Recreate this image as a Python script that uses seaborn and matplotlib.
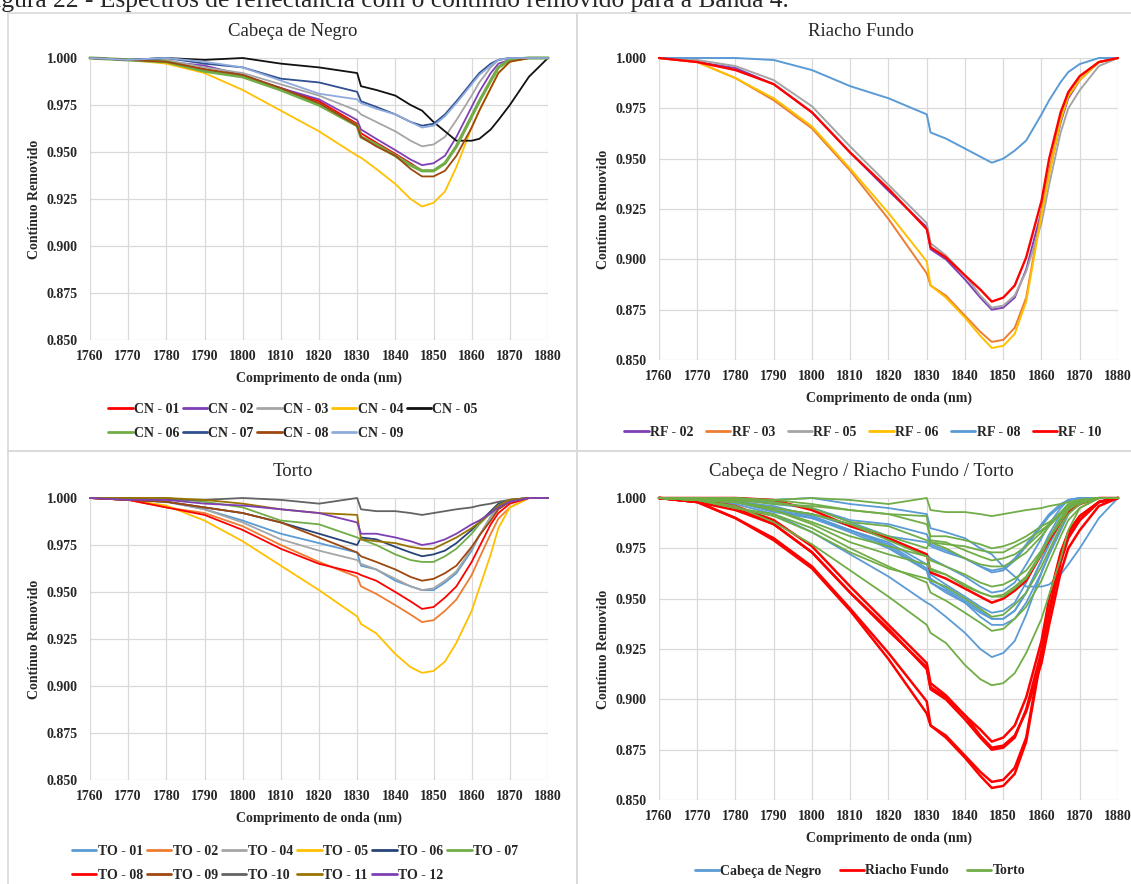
import numpy as np
import pandas as pd
import seaborn as sns
import matplotlib.pyplot as plt
from matplotlib.lines import Line2D
from matplotlib.patches import Rectangle

# wavelengths (nm) at which the curves were read
wl = [1760, 1770, 1780, 1790, 1800, 1810, 1820, 1830, 1831, 1835, 1840, 1844,
      1847, 1850, 1853, 1856, 1860, 1862, 1865, 1867, 1870, 1875, 1880]

# Cabeca de Negro
cn01 = [1.000, 0.999, 0.998, 0.994, 0.990, 0.984, 0.977, 0.965, 0.960, 0.955, 0.949, 0.944, 0.940, 0.940, 0.944, 0.953, 0.969, 0.977, 0.988, 0.995, 0.999, 1.000, 1.000]
cn02 = [1.000, 0.999, 0.998, 0.996, 0.991, 0.984, 0.978, 0.967, 0.962, 0.957, 0.951, 0.946, 0.943, 0.944, 0.948, 0.958, 0.974, 0.982, 0.992, 0.997, 0.999, 1.000, 1.000]
cn03 = [1.000, 0.999, 0.999, 0.995, 0.992, 0.986, 0.980, 0.972, 0.970, 0.966, 0.961, 0.956, 0.953, 0.954, 0.958, 0.967, 0.980, 0.987, 0.995, 0.999, 1.000, 1.000, 1.000]
cn04 = [1.000, 0.999, 0.997, 0.992, 0.983, 0.972, 0.961, 0.948, 0.947, 0.941, 0.933, 0.925, 0.921, 0.923, 0.929, 0.942, 0.963, 0.972, 0.984, 0.992, 0.998, 1.000, 1.000]
cn05 = [1.000, 0.999, 1.000, 0.999, 1.000, 0.997, 0.995, 0.992, 0.985, 0.983, 0.980, 0.975, 0.972, 0.966, 0.961, 0.956, 0.956, 0.957, 0.962, 0.967, 0.975, 0.990, 1.000]
cn06 = [1.000, 0.999, 0.998, 0.993, 0.990, 0.983, 0.975, 0.964, 0.958, 0.954, 0.948, 0.943, 0.940, 0.940, 0.944, 0.953, 0.969, 0.977, 0.988, 0.995, 0.999, 1.000, 1.000]
cn07 = [1.000, 0.999, 1.000, 0.997, 0.995, 0.989, 0.987, 0.982, 0.977, 0.974, 0.970, 0.966, 0.964, 0.965, 0.970, 0.977, 0.987, 0.992, 0.997, 0.999, 1.000, 1.000, 1.000]
cn08 = [1.000, 0.999, 0.998, 0.994, 0.991, 0.984, 0.976, 0.964, 0.958, 0.953, 0.948, 0.941, 0.937, 0.937, 0.940, 0.948, 0.963, 0.972, 0.984, 0.992, 0.998, 1.000, 1.000]
cn09 = [1.000, 0.999, 1.000, 0.998, 0.995, 0.988, 0.981, 0.978, 0.976, 0.973, 0.970, 0.966, 0.963, 0.964, 0.969, 0.976, 0.986, 0.991, 0.996, 0.999, 1.000, 1.000, 1.000]

# Riacho Fundo
rf02 = [1.000, 0.998, 0.995, 0.987, 0.973, 0.953, 0.934, 0.916, 0.905, 0.900, 0.890, 0.881, 0.875, 0.876, 0.881, 0.895, 0.924, 0.943, 0.968, 0.980, 0.989, 0.998, 1.000]
rf03 = [1.000, 0.998, 0.990, 0.979, 0.965, 0.944, 0.920, 0.893, 0.887, 0.882, 0.872, 0.864, 0.859, 0.860, 0.866, 0.881, 0.924, 0.944, 0.971, 0.983, 0.991, 0.998, 1.000]
rf05 = [1.000, 0.999, 0.996, 0.989, 0.976, 0.956, 0.937, 0.918, 0.908, 0.902, 0.892, 0.882, 0.876, 0.877, 0.882, 0.894, 0.918, 0.937, 0.963, 0.975, 0.984, 0.996, 1.000]
rf06 = [1.000, 0.998, 0.990, 0.980, 0.966, 0.945, 0.923, 0.899, 0.887, 0.881, 0.871, 0.862, 0.856, 0.857, 0.863, 0.879, 0.922, 0.942, 0.969, 0.981, 0.989, 0.998, 1.000]
rf08 = [1.000, 1.000, 1.000, 0.999, 0.994, 0.986, 0.980, 0.972, 0.963, 0.960, 0.955, 0.951, 0.948, 0.950, 0.954, 0.959, 0.972, 0.979, 0.988, 0.993, 0.997, 1.000, 1.000]
rf10 = [1.000, 0.998, 0.994, 0.987, 0.973, 0.953, 0.935, 0.915, 0.906, 0.901, 0.892, 0.885, 0.879, 0.881, 0.887, 0.901, 0.929, 0.950, 0.973, 0.983, 0.991, 0.998, 1.000]

# Torto
to01 = [1.000, 0.999, 0.998, 0.994, 0.988, 0.981, 0.976, 0.971, 0.964, 0.962, 0.956, 0.953, 0.951, 0.951, 0.955, 0.960, 0.972, 0.980, 0.990, 0.995, 0.999, 1.000, 1.000]
to02 = [1.000, 0.999, 0.995, 0.992, 0.985, 0.975, 0.966, 0.958, 0.953, 0.949, 0.943, 0.938, 0.934, 0.935, 0.940, 0.946, 0.959, 0.968, 0.981, 0.989, 0.995, 1.000, 1.000]
to04 = [1.000, 0.999, 0.998, 0.994, 0.987, 0.978, 0.972, 0.967, 0.965, 0.962, 0.957, 0.953, 0.951, 0.952, 0.956, 0.961, 0.973, 0.980, 0.990, 0.995, 0.999, 1.000, 1.000]
to05 = [1.000, 0.999, 0.996, 0.988, 0.977, 0.964, 0.951, 0.937, 0.933, 0.928, 0.917, 0.910, 0.907, 0.908, 0.913, 0.923, 0.940, 0.952, 0.970, 0.984, 0.995, 1.000, 1.000]
to06 = [1.000, 0.999, 0.998, 0.995, 0.992, 0.987, 0.981, 0.975, 0.979, 0.978, 0.974, 0.971, 0.969, 0.970, 0.972, 0.976, 0.983, 0.987, 0.993, 0.997, 0.999, 1.000, 1.000]
to07 = [1.000, 1.000, 1.000, 0.998, 0.995, 0.988, 0.986, 0.979, 0.978, 0.975, 0.970, 0.967, 0.966, 0.966, 0.969, 0.973, 0.981, 0.986, 0.992, 0.996, 0.999, 1.000, 1.000]
to08 = [1.000, 0.999, 0.995, 0.991, 0.983, 0.973, 0.965, 0.960, 0.959, 0.956, 0.950, 0.945, 0.941, 0.942, 0.947, 0.953, 0.966, 0.974, 0.986, 0.992, 0.997, 1.000, 1.000]
to09 = [1.000, 0.999, 0.998, 0.995, 0.992, 0.987, 0.979, 0.971, 0.969, 0.966, 0.962, 0.958, 0.956, 0.957, 0.960, 0.964, 0.974, 0.980, 0.988, 0.994, 0.998, 1.000, 1.000]
to10 = [1.000, 1.000, 0.999, 0.999, 1.000, 0.999, 0.997, 1.000, 0.994, 0.993, 0.993, 0.992, 0.991, 0.992, 0.993, 0.994, 0.995, 0.996, 0.997, 0.998, 0.999, 1.000, 1.000]
to11 = [1.000, 1.000, 1.000, 0.999, 0.997, 0.994, 0.992, 0.991, 0.978, 0.977, 0.976, 0.974, 0.973, 0.973, 0.976, 0.979, 0.984, 0.987, 0.992, 0.996, 0.999, 1.000, 1.000]
to12 = [1.000, 0.999, 0.999, 0.997, 0.996, 0.994, 0.992, 0.987, 0.981, 0.981, 0.979, 0.977, 0.975, 0.976, 0.978, 0.981, 0.986, 0.988, 0.992, 0.995, 0.998, 1.000, 1.000]

cn_labels = ['CN - 01', 'CN - 02', 'CN - 03', 'CN - 04', 'CN - 05',
             'CN - 06', 'CN - 07', 'CN - 08', 'CN - 09']
cn_series = [cn01, cn02, cn03, cn04, cn05, cn06, cn07, cn08, cn09]
cn_colors = ['#FF0000', '#7F3FB5', '#A5A5A5', '#FFC000', '#111111',
             '#70AD47', '#2F4F8F', '#9E480E', '#8FAADC']
cn_widths = [1.3, 1.3, 1.3, 1.3, 1.3, 2.3, 1.3, 1.3, 1.3]

rf_labels = ['RF - 02', 'RF - 03', 'RF - 05', 'RF - 06', 'RF - 08', 'RF - 10']
rf_series = [rf02, rf03, rf05, rf06, rf08, rf10]
rf_colors = ['#7F3FB5', '#ED7D31', '#A5A5A5', '#FFC000', '#5B9BD5', '#FF0000']
rf_widths = [1.4, 1.4, 1.4, 1.4, 1.4, 1.7]

to_labels = ['TO - 01', 'TO - 02', 'TO - 04', 'TO - 05', 'TO - 06', 'TO - 07',
             'TO - 08', 'TO - 09', 'TO -10', 'TO - 11', 'TO - 12']
to_series = [to01, to02, to04, to05, to06, to07, to08, to09, to10, to11, to12]
to_colors = ['#5B9BD5', '#ED7D31', '#A5A5A5', '#FFC000', '#264478', '#70AD47',
             '#FF0000', '#9E480E', '#636363', '#997300', '#7F3FB5']

group_labels = ['Cabeça de Negro', 'Riacho Fundo', 'Torto']
group_colors = ['#5B9BD5', '#FF0000', '#70AD47']

sns.set_theme(style='white')
plt.rcParams['font.family'] = ['Liberation Serif', 'DejaVu Serif']

W, H = 1131, 884
fig = plt.figure(figsize=(W / 100, H / 100), dpi=100)


def px_axes(x0, y0, x1, y1):
    return fig.add_axes([x0 / W, 1 - y1 / H, (x1 - x0) / W, (y1 - y0) / H])


def style_axes(ax):
    ax.set_xlim(1760, 1880)
    ax.set_ylim(0.85, 1.0)
    ax.set_xticks(range(1760, 1881, 10))
    ax.set_yticks([0.85, 0.875, 0.9, 0.925, 0.95, 0.975, 1.0])
    ax.set_yticklabels([f'{v:.3f}' for v in ax.get_yticks()])
    ax.grid(True, color='#D9D9D9', linewidth=0.9)
    for s in ax.spines.values():
        s.set_visible(False)
    ax.tick_params(length=0, labelsize=10)
    ax.tick_params(axis='x', pad=7)
    ax.tick_params(axis='y', pad=9)
    for t in ax.get_xticklabels() + ax.get_yticklabels():
        t.set_fontweight('bold')
    ax.set_xlabel('Comprimento de onda (nm)', fontsize=10, fontweight='bold', labelpad=6)
    ax.set_ylabel('Contínuo Removido', fontsize=10, fontweight='bold', labelpad=4)


def draw(ax, series, colors, widths):
    for vals, c, lw in zip(series, colors, widths):
        sns.lineplot(x=wl, y=vals, ax=ax, color=c, linewidth=lw,
                     estimator=None, sort=False, clip_on=False)


def row_major(items, ncol):
    out = []
    for c in range(ncol):
        out += items[c::ncol]
    return out


def add_legend(labels, colors, ncol, cx, cy, colspace):
    handles = [Line2D([], [], color=c, linewidth=2) for c in colors]
    fig.legend(row_major(handles, ncol), row_major(labels, ncol),
               loc='center', bbox_to_anchor=(cx / W, 1 - cy / H), ncol=ncol,
               frameon=False, handlelength=1.75, handletextpad=0.1,
               columnspacing=colspace, labelspacing=0.75,
               prop={'weight': 'bold', 'size': 10})


# panel frames
for x0, y0, x1, y1 in [(8, 13, 577, 451), (577, 13, 1160, 451),
                       (8, 451, 577, 900), (577, 451, 1160, 900)]:
    fig.add_artist(Rectangle((x0 / W, 1 - y1 / H), (x1 - x0) / W, (y1 - y0) / H,
                             transform=fig.transFigure, fill=False,
                             edgecolor='#D9D9D9', linewidth=1.2))

fig.text(-20 / W, 1 - 6.5 / H,
         'Figura 22 - Espectros de reflectância com o contínuo removido para a Banda 4.',
         fontsize=18.4, ha='left', va='baseline')

# Cabeca de Negro
ax1 = px_axes(90, 58, 548, 340)
draw(ax1, cn_series, cn_colors, cn_widths)
style_axes(ax1)
fig.text(293 / W, 1 - 32 / H, 'Cabeça de Negro', fontsize=13.5, ha='center', va='center')
add_legend(cn_labels, cn_colors, 5, 293, 421.5, 0.25)

# Riacho Fundo
ax2 = px_axes(659, 58, 1118, 360)
draw(ax2, rf_series, rf_colors, rf_widths)
style_axes(ax2)
fig.text(861 / W, 1 - 32 / H, 'Riacho Fundo', fontsize=13.5, ha='center', va='center')
add_legend(rf_labels, rf_colors, 6, 863, 432, 0.9)

# Torto
ax3 = px_axes(90, 498, 548, 780)
draw(ax3, to_series, to_colors, [1.3] * len(to_series))
style_axes(ax3)
fig.text(293 / W, 1 - 472 / H, 'Torto', fontsize=13.5, ha='center', va='center')
add_legend(to_labels, to_colors, 6, 295, 863.5, 0.3)

# all three areas together
ax4 = px_axes(659, 498, 1118, 800)
draw(ax4, cn_series, [group_colors[0]] * len(cn_series), [1.3] * len(cn_series))
draw(ax4, rf_series, [group_colors[1]] * len(rf_series), [1.8] * len(rf_series))
draw(ax4, to_series, [group_colors[2]] * len(to_series), [1.3] * len(to_series))
style_axes(ax4)
fig.text(861 / W, 1 - 472 / H, 'Cabeça de Negro / Riacho Fundo / Torto',
         fontsize=13.5, ha='center', va='center')
add_legend(group_labels, group_colors, 3, 860, 871, 1.3)

fig.savefig('out.png', dpi=100)
